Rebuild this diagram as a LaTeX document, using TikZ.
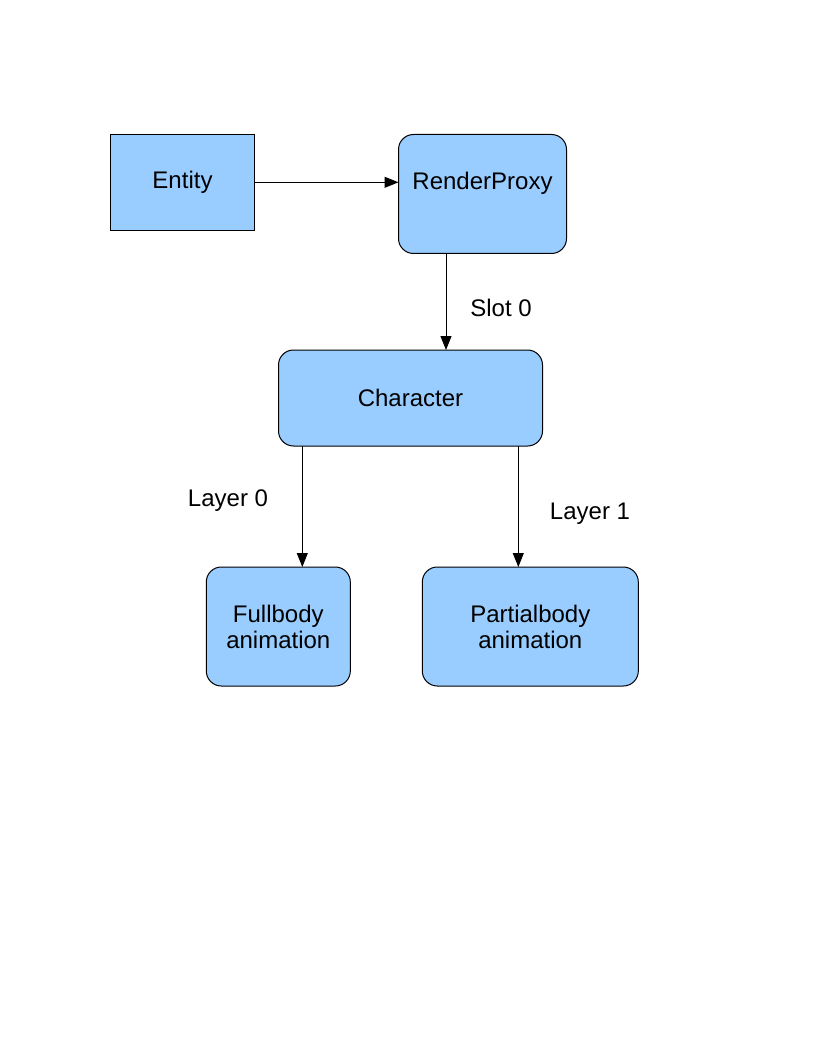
\documentclass[tikz,border=0pt]{standalone}
\usepackage{fontspec}
\setmainfont{Liberation Sans}
\usetikzlibrary{arrows.meta}
\definecolor{boxblue}{HTML}{99CCFF}
\begin{document}
\begin{tikzpicture}[x=1pt,y=-1pt,
  every node/.style={font=\fontsize{24}{26}\selectfont, inner sep=0pt, outer sep=0pt},
  sqbox/.style={draw=black, line width=1pt, fill=boxblue},
  rbox/.style={draw=black, line width=1pt, fill=boxblue, rounded corners=15pt},
  arr/.style={draw=black, line width=1pt, -{Triangle[length=14pt,width=11pt]}},
  lbl/.style={text=black}
]
\useasboundingbox (0,0) rectangle (816,1056);
\fill[white] (0,0) rectangle (816,1056);

\node[sqbox, minimum width=144pt, minimum height=96pt] (ent) at (182.5,182.3) {Entity};
\node[rbox, minimum width=168pt, minimum height=119pt] (rp) at (482.5,194) {};
\node (rpt) at (482.5,183) {RenderProxy};
\node[rbox, minimum width=264pt, minimum height=96pt] (ch) at (410.5,398) {Character};
\node[rbox, minimum width=144pt, minimum height=119pt, align=center] (fb) at (278.3,626.5) {Fullbody\\animation};
\node[rbox, minimum width=216pt, minimum height=119pt, align=center] (pb) at (530.3,626.5) {Partialbody\\animation};

\draw[arr] (ent.east) -- (rp.west |- ent.east);
\draw[arr] (rp.south -| 446,0) -- (ch.north -| 446,0);
\draw[arr] (ch.south -| 302.3,0) -- (fb.north -| 302.3,0);
\draw[arr] (ch.south -| 518.3,0) -- (pb.north -| 518.3,0);

\node[lbl] (l1) at (501,308) {Slot 0};
\node[lbl] (l2) at (228,501) {Layer 0};
\node[lbl] (l3) at (590,514) {Layer 1};
\end{tikzpicture}
\end{document}
